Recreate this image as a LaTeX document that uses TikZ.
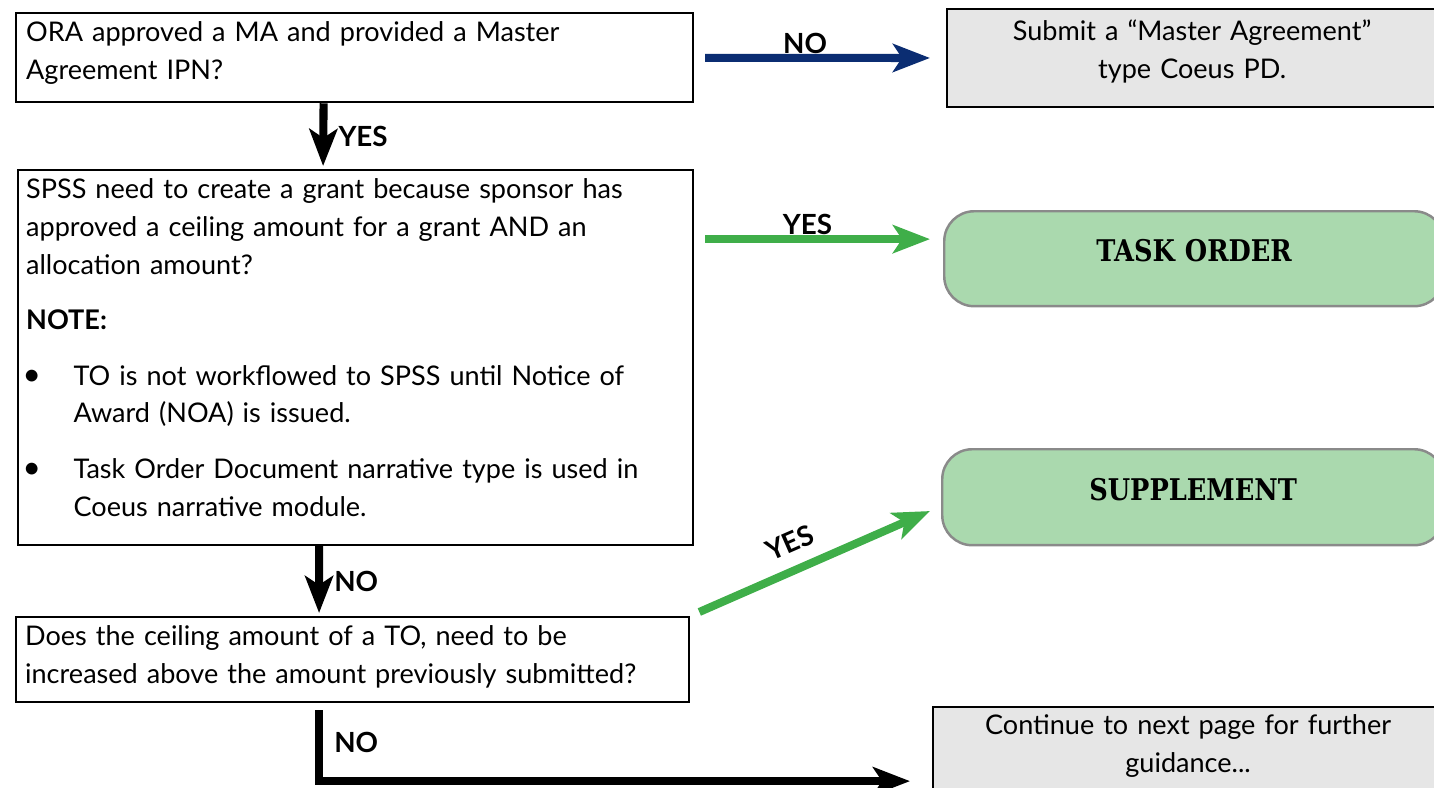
\documentclass[tikz,border=0pt]{standalone}
\usepackage{fontspec}
\setmainfont{Lato}
\newfontfamily\slabfont[FakeStretch=0.86]{DejaVu Serif}
\usetikzlibrary{arrows.meta,positioning}

\definecolor{navyflow}{HTML}{0B2D72}
\definecolor{greenflow}{HTML}{3FAE49}
\definecolor{greenfill}{HTML}{AAD9AE}
\definecolor{grayfill}{HTML}{E6E6E6}
\definecolor{grayline}{HTML}{8A8A8A}

\newcommand{\notebullet}{\par\hangindent=27pt\makebox[27pt][l]{\hspace{-2pt}{\fontsize{18}{18}\selectfont\textbullet}}}
\newcommand{\lift}[1]{\par\vspace*{#1}\hrule height 0pt\relax}

\tikzset{
  question/.style={draw, line width=1.3pt, anchor=north west, align=left,
                   font=\fontsize{15.4}{21.5}\selectfont},
  outcome/.style={draw, line width=1.3pt, fill=grayfill, anchor=north west,
                  align=center, text width=9cm, font=\fontsize{15.4}{21.5}\selectfont},
  result/.style={draw=grayline, line width=1.4pt, fill=greenfill, rounded corners=0.6cm,
                 anchor=north west, align=center, text width=9cm,
                 font=\slabfont\bfseries\fontsize{17}{20}\selectfont},
  flow/.style={line width=4.6pt, -{Stealth[length=0.74cm,width=0.56cm,inset=0.18cm]}},
  answer/.style={font=\bfseries\fontsize{15.8}{18}\selectfont, text=black}
}

\begin{document}
\begin{tikzpicture}[x=0.02cm,y=-0.02cm]
  \useasboundingbox (0,0) rectangle (1434,788);

  \node[question, minimum width=13.54cm, minimum height=1.78cm, inner xsep=0.2cm,
        text width=13.14cm] (ora) at (15,12)
        {ORA approved a MA and provided a Master\\Agreement IPN?\lift{5.7pt}};
  \node[question, minimum width=13.5cm, minimum height=7.5cm, inner xsep=0.16cm,
        text width=13.18cm] (spss) at (17,169)
        {\parindent=0pt\parskip=10pt
         SPSS need to create a grant because sponsor has\newline
         approved a ceiling amount for a grant AND an\newline
         allocation amount?\par
         \textbf{NOTE:}
         \notebullet TO is not workflowed to SPSS until Notice of\newline
         Award (NOA) is issued.
         \notebullet Task Order Document narrative type is used in\newline
         Coeus narrative module.\par\vspace*{1pt}\lift{10.3pt}};
  \node[question, minimum width=13.46cm, minimum height=1.7cm, inner xsep=0.18cm,
        text width=13.1cm] (ceiling) at (15,616)
        {Does the ceiling amount of a TO, need to be\\increased above the amount previously submitted?\lift{3.4pt}};

  \node[outcome, minimum width=9.8cm, minimum height=1.96cm] (submit) at (946,8)
        {Submit a ``Master Agreement''\\type Coeus PD.\lift{8pt}};
  \node[result, minimum width=10cm, minimum height=1.9cm] (task) at (943,210)
        {TASK ORDER\lift{9pt}};
  \node[result, minimum width=10.04cm, minimum height=1.92cm] (supp) at (941,448)
        {SUPPLEMENT\lift{9pt}};
  \node[outcome, minimum width=10.2cm, minimum height=2cm] (cont) at (932,706)
        {Continue to next page for further\\guidance...\lift{12.5pt}};

  \draw[flow, navyflow, shorten <=0.22cm, shorten >=0.32cm] (ora) -- (submit)
        node[answer, midway, above=-3pt, xshift=-0.3cm] {NO};
  \draw[flow, shorten >=0.06cm] ([xshift=-0.62cm]ora.south) -- ([xshift=-0.65cm]spss.north)
        node[answer, midway, right=3pt] {YES};
  \draw[flow, greenflow, shorten <=0.22cm, shorten >=0.26cm]
        ([yshift=2.37cm]spss.east) -- ([yshift=2.37cm]spss.east -| task.west)
        node[answer, midway, above=-3pt, xshift=-0.22cm] {YES};
  \draw[flow, shorten >=0.06cm] ([xshift=-0.73cm]spss.south) -- ([xshift=-0.67cm]ceiling.north)
        node[answer, midway, right=3pt] {NO};
  \draw[flow, greenflow, shorten <=0.2cm, shorten >=0.24cm]
        (ceiling.north east) -- ([yshift=-0.18cm]supp.west)
        node[answer, pos=0.44, above=4pt, sloped] {YES};
  \draw[flow, shorten <=0.14cm, shorten >=0.44cm]
        ([xshift=-0.67cm]ceiling.south) |- ([yshift=-0.48cm]cont.west)
        node[answer, pos=0.25, right=3pt] {NO};
\end{tikzpicture}
\end{document}
